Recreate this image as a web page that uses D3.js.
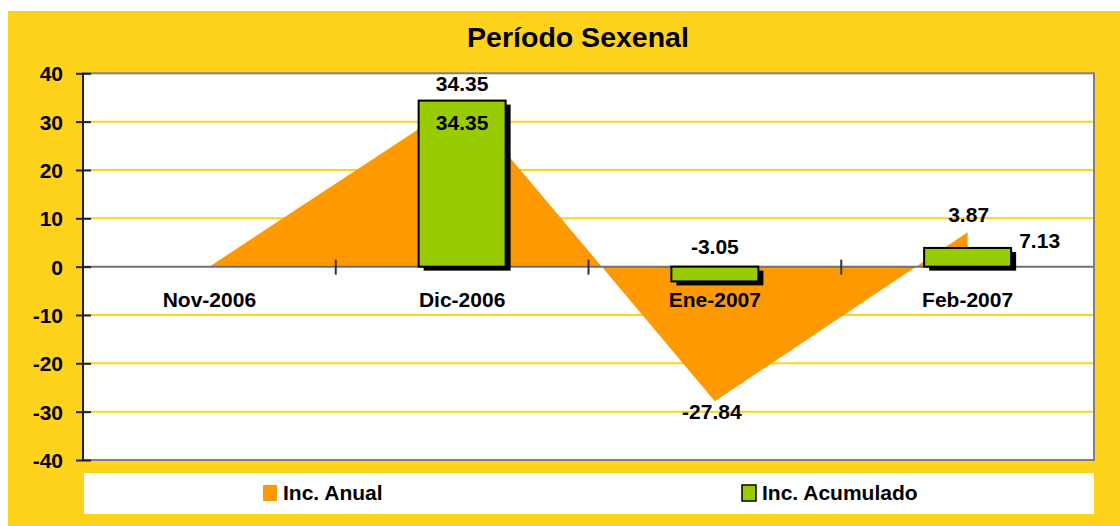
<!DOCTYPE html>
<html>
<head>
<meta charset="utf-8">
<script src="https://cdn.jsdelivr.net/npm/d3@7"></script>
<style>
  html, body { margin: 0; padding: 0; background: #ffffff; }
  svg { display: block; font-family: "Liberation Sans", Arial, sans-serif; font-weight: bold; }
</style>
</head>
<body>
<svg id="chart" width="1120" height="526"></svg>
<script>
// ---- data ----
const categories = ["Nov-2006", "Dic-2006", "Ene-2007", "Feb-2007"];
const incAnual = [0, 34.35, -27.84, 7.13];          // area series
const incAcumulado = [null, 34.35, -3.05, 3.87];     // bar series
const yTicks = [-40, -30, -20, -10, 0, 10, 20, 30, 40];
const seriesNames = ["Inc. Anual", "Inc. Acumulado"];
const titleText = "Período Sexenal";

// ---- layout ----
const W = 1120, H = 526;
const plot = { x0: 83, x1: 1094, y0: 73.3, y1: 460 };
const colors = { bg: "#FFD21C", grid: "#FFD21C", area: "#FF9900", bar: "#99CC00", border: "#808080" };
const FS = 21;

const svg = d3.select("#chart");

// outer background
svg.append("rect").attr("x", 8).attr("y", 11).attr("width", W - 8).attr("height", H - 11).attr("fill", colors.bg);

// title
svg.append("text").attr("x", 578).attr("y", 47).attr("text-anchor", "middle")
  .attr("font-size", 28.5).attr("fill", "#000").text(titleText);

const x = d3.scaleBand().domain(categories).range([plot.x0, plot.x1]).paddingInner(0).paddingOuter(0);
const y = d3.scaleLinear().domain([-40, 40]).range([plot.y1, plot.y0]);
const cx = c => x(c) + x.bandwidth() / 2;
const hy = s => String(s).replace("\u2212", "-");

// plot background
svg.append("rect").attr("x", plot.x0).attr("y", plot.y0)
  .attr("width", plot.x1 - plot.x0).attr("height", plot.y1 - plot.y0).attr("fill", "#fff");

// gridlines
svg.append("g").selectAll("line").data(yTicks.filter(t => t !== 0 && Math.abs(t) !== 40)).join("line")
  .attr("x1", plot.x0).attr("x2", plot.x1).attr("y1", d => y(d)).attr("y2", d => y(d))
  .attr("stroke", colors.grid).attr("stroke-width", 2);

// area
const areaData = categories.map((c, i) => ({ c, v: incAnual[i] }));
svg.append("path").datum(areaData)
  .attr("d", d3.area().x(d => cx(d.c)).y0(y(0)).y1(d => y(d.v)))
  .attr("fill", colors.area);

// plot border
svg.append("rect").attr("x", plot.x0).attr("y", plot.y0)
  .attr("width", plot.x1 - plot.x0).attr("height", plot.y1 - plot.y0)
  .attr("fill", "none").attr("stroke", colors.border).attr("stroke-width", 2);

// x axis (zero line) with ticks between categories
svg.append("line").attr("x1", plot.x0).attr("x2", plot.x1).attr("y1", y(0)).attr("y2", y(0))
  .attr("stroke", "#707070").attr("stroke-width", 2);
svg.append("g").selectAll("line").data(categories.slice(1)).join("line")
  .attr("x1", d => x(d)).attr("x2", d => x(d)).attr("y1", y(0) - 7).attr("y2", y(0) + 8)
  .attr("stroke", "#333").attr("stroke-width", 2);

// y axis
const yAxis = d3.axisLeft(y).tickValues(yTicks).tickFormat(d => hy(d3.format("d")(d))).tickSize(0).tickPadding(0);
const gy = svg.append("g").attr("transform", `translate(${plot.x0},0)`).call(yAxis);
gy.select(".domain").remove();
gy.selectAll(".tick text").attr("x", -20).attr("dy", 7.5).attr("font-size", FS)
  .attr("font-family", "Liberation Sans, Arial, sans-serif").attr("font-weight", "bold").attr("fill", "#000");
gy.selectAll(".tick").append("line").attr("x1", -7).attr("x2", 8).attr("stroke", "#222").attr("stroke-width", 2);
svg.append("line").attr("x1", plot.x0).attr("x2", plot.x0).attr("y1", plot.y0).attr("y2", plot.y1)
  .attr("stroke", "#222").attr("stroke-width", 2);

// category labels
svg.append("g").selectAll("text").data(categories).join("text")
  .attr("x", d => cx(d)).attr("y", 307).attr("text-anchor", "middle")
  .attr("font-size", FS).attr("fill", "#000").text(d => d);

// bars with shadows
const barW = 87;
const barData = categories.map((c, i) => ({ c, v: incAcumulado[i] })).filter(d => d.v !== null);
const gb = svg.append("g");
gb.selectAll("rect.shadow").data(barData).join("rect").attr("class", "shadow")
  .attr("x", d => cx(d.c) - barW / 2 + 5).attr("y", d => Math.min(y(d.v), y(0)) + 4)
  .attr("width", barW).attr("height", d => Math.abs(y(d.v) - y(0)))
  .attr("fill", "#000");
gb.selectAll("rect.bar").data(barData).join("rect").attr("class", "bar")
  .attr("x", d => cx(d.c) - barW / 2).attr("y", d => Math.min(y(d.v), y(0)))
  .attr("width", barW).attr("height", d => Math.abs(y(d.v) - y(0)))
  .attr("fill", colors.bar).attr("stroke", "#000").attr("stroke-width", 2);

// data labels
const fmt = v => hy(d3.format(".2f")(v));
const labels = [
  { c: categories[1], v: incAnual[1], dx: 0, yAt: incAnual[1], dy: 29 },
  { c: categories[2], v: incAnual[2], dx: -3, yAt: incAnual[2], dy: 18 },
  { c: categories[3], v: incAnual[3], dx: 72, yAt: incAnual[3], dy: 16 },
  { c: categories[1], v: incAcumulado[1], dx: 0, yAt: incAcumulado[1], dy: -10 },
  { c: categories[2], v: incAcumulado[2], dx: 0, yAt: 0, dy: -13 },
  { c: categories[3], v: incAcumulado[3], dx: 1, yAt: incAcumulado[3], dy: -26 }
];
svg.append("g").selectAll("text").data(labels).join("text")
  .attr("x", d => cx(d.c) + d.dx).attr("y", d => y(d.yAt) + d.dy)
  .attr("text-anchor", "middle").attr("font-size", FS).attr("fill", "#000")
  .text(d => fmt(d.v));

// legend
svg.append("rect").attr("x", 84).attr("y", 473).attr("width", 1010).attr("height", 41).attr("fill", "#fff");
const legendItems = [
  { name: seriesNames[0], x: 263, fill: colors.area, stroke: "none" },
  { name: seriesNames[1], x: 742, fill: colors.bar, stroke: "#000" }
];
const gl = svg.append("g");
legendItems.forEach(d => {
  gl.append("rect").attr("x", d.x).attr("y", 485).attr("width", 14).attr("height", 16)
    .attr("fill", d.fill).attr("stroke", d.stroke).attr("stroke-width", d.stroke === "none" ? 0 : 1.5);
  gl.append("text").attr("x", d.x + 20).attr("y", 500).attr("font-size", FS).attr("fill", "#000").text(d.name);
});
</script>
</body>
</html>
